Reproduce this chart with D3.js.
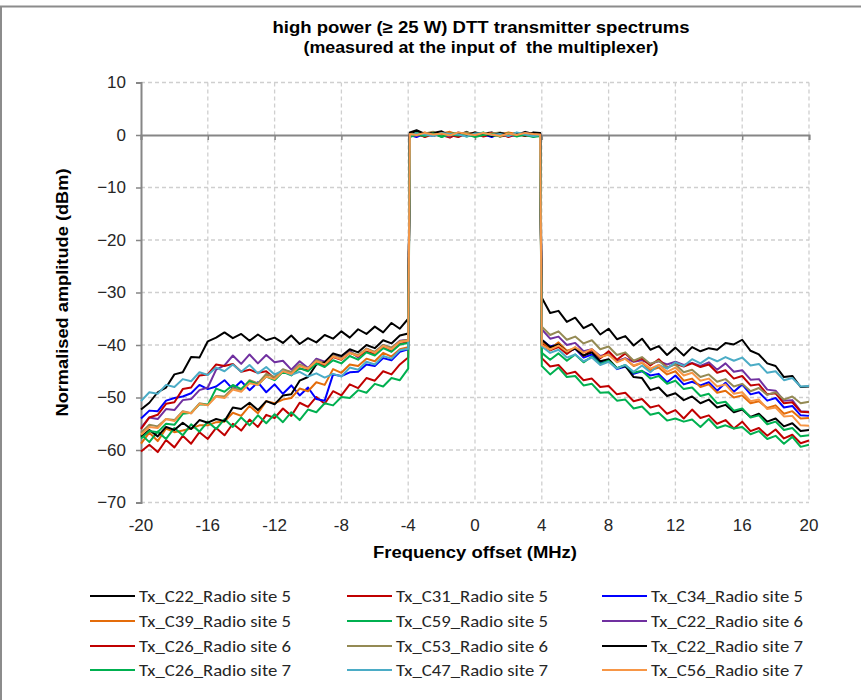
<!DOCTYPE html>
<html>
<head>
<meta charset="utf-8">
<script src="https://cdn.jsdelivr.net/npm/d3@7"></script>
<style>
  body { margin: 0; background: #fff; }
  svg { display: block; }
</style>
</head>
<body>
<svg id="chart" width="861" height="700"></svg>
<script>
// frequency grid (MHz): left shoulder, in-band, right shoulder
const leftFreqs = d3.range(-20, -3.99, 0.5);
const bandFreqs = [-3.9].concat(d3.range(-3.5, 3.51, 0.5), [3.9]);
const rightFreqs = d3.range(4, 20.01, 0.5);
const freqs = leftFreqs.concat(bandFreqs, rightFreqs);

const xTicks = [-20, -16, -12, -8, -4, 0, 4, 8, 12, 16, 20];
const yTicks = [10, 0, -10, -20, -30, -40, -50, -60, -70];

const seriesNames = [
  'Tx_C22_Radio site 5', 'Tx_C31_Radio site 5', 'Tx_C34_Radio site 5',
  'Tx_C39_Radio site 5', 'Tx_C59_Radio site 5', 'Tx_C22_Radio site 6',
  'Tx_C26_Radio site 6', 'Tx_C53_Radio site 6', 'Tx_C22_Radio site 7',
  'Tx_C26_Radio site 7', 'Tx_C47_Radio site 7', 'Tx_C56_Radio site 7'
];
const seriesColors = [
  '#000000', '#c00000', '#0000ff',
  '#e46c0a', '#00b050', '#7030a0',
  '#c00000', '#948a54', '#000000',
  '#00b050', '#4bacc6', '#f79646'
];

// levels in dBm, one value per frequency in freqs
const c22site5 = [
  -52.3, -51.0, -49.0, -48.1, -45.6, -45.2, -42.3, -42.4, -39.3, -38.6, -37.6, -38.7, -37.9, -39.2, -38.0, -39.1, -38.6,
  -39.6, -38.2, -39.8, -38.7, -39.5, -38.1, -38.8, -37.4, -38.6, -37.0, -37.9, -36.5, -37.6, -35.8, -36.9, -35.0,
  0.2, 0.8, 0.1, 0.5, -0.3, 0.4, 0.0, 0.6, -0.2, 0.3, 0.5, -0.1, 0.4, 0.0, 0.6, 0.2, 0.3,
  -31.0, -33.9, -33.5, -35.6, -34.8, -36.8, -36.0, -38.0, -36.9, -38.9, -38.3, -40.1, -38.8, -40.9, -40.2, -41.9, -40.5,
  -42.0, -40.4, -41.2, -40.6, -40.9, -39.6, -39.9, -39.0, -41.1, -41.8, -43.5, -44.0, -46.1, -45.9, -48.0, -47.9
];
const c31site5 = [
  -60.3, -59.0, -60.4, -58.1, -59.5, -57.3, -58.8, -56.6, -57.9, -55.8, -57.2, -55.0, -56.3, -54.2, -55.6, -53.3, -53.9,
  -52.1, -53.5, -51.0, -51.8, -49.9, -51.2, -48.8, -49.6, -47.5, -48.2, -46.3, -46.8, -45.0, -45.6, -43.7, -42.4,
  -0.3, 0.3, -0.4, 0.2, 0.0, -0.5, 0.3, -0.2, 0.4, -0.3, 0.1, 0.3, -0.4, 0.2, -0.1, 0.3, -0.2,
  -42.5, -44.1, -43.8, -45.5, -45.1, -46.7, -46.4, -48.0, -47.8, -49.4, -49.1, -50.7, -50.3, -51.9, -51.5, -53.1, -52.4,
  -54.0, -52.3, -53.9, -53.4, -55.0, -54.3, -55.9, -54.6, -56.4, -55.8, -57.3, -56.1, -57.8, -57.1, -58.7, -58.2
];
const c34site5 = [
  -54.0, -52.5, -52.6, -50.6, -50.1, -49.8, -49.2, -47.6, -48.4, -47.9, -46.7, -48.4, -46.9, -48.6, -47.1, -49.0, -47.5,
  -49.3, -47.7, -49.6, -48.1, -50.3, -50.6, -45.6, -45.9, -45.2, -45.1, -43.7, -44.0, -42.5, -42.9, -41.3, -40.8,
  0.0, -0.4, 0.3, -0.2, 0.5, 0.1, -0.3, 0.4, 0.0, 0.2, -0.4, 0.3, 0.1, -0.2, 0.4, 0.0, 0.1,
  -39.0, -40.3, -39.8, -41.4, -40.7, -42.4, -41.8, -43.3, -42.9, -44.6, -44.1, -45.5, -45.0, -45.8, -45.5, -47.1, -45.8,
  -47.5, -47.0, -47.7, -47.1, -48.7, -47.2, -48.9, -47.5, -49.4, -49.0, -50.6, -50.1, -51.9, -51.6, -53.4, -53.5
];
const c39site5 = [
  -58.8, -56.7, -58.3, -55.9, -56.6, -56.3, -55.9, -55.3, -55.3, -54.7, -54.6, -52.9, -53.5, -51.6, -53.0, -50.7, -51.1,
  -50.4, -50.1, -48.3, -48.8, -47.1, -47.6, -44.6, -45.3, -43.7, -44.0, -42.6, -43.1, -41.5, -42.2, -40.8, -40.4,
  0.3, 0.1, 0.5, -0.1, 0.3, 0.6, 0.0, 0.2, 0.5, -0.1, 0.4, 0.1, 0.5, 0.2, -0.1, 0.4, 0.2,
  -39.4, -40.7, -39.5, -41.1, -40.6, -41.3, -40.9, -42.4, -41.7, -43.1, -42.6, -44.0, -43.4, -44.8, -44.3, -45.6, -45.0,
  -46.8, -46.4, -48.0, -47.5, -49.1, -48.7, -50.0, -49.6, -51.1, -50.7, -52.0, -51.5, -53.1, -52.6, -54.0, -53.9
];
const c59site5 = [
  -57.0, -58.5, -56.5, -57.9, -55.8, -57.2, -55.1, -56.5, -54.6, -56.0, -54.1, -55.6, -53.8, -55.3, -53.4, -54.9, -53.2,
  -54.7, -52.8, -54.3, -52.3, -52.8, -51.1, -51.5, -49.9, -50.1, -48.6, -49.1, -47.4, -47.9, -46.3, -46.7, -44.5,
  -0.2, 0.4, -0.1, 0.3, -0.4, 0.2, 0.4, -0.3, 0.1, 0.5, -0.2, 0.0, 0.3, -0.3, 0.2, -0.1, 0.0,
  -44.0, -45.6, -44.3, -46.1, -45.9, -47.7, -47.4, -49.1, -49.0, -50.6, -50.4, -52.1, -51.7, -53.3, -52.9, -54.4, -54.0,
  -54.6, -54.2, -55.6, -54.1, -55.8, -55.3, -55.9, -55.6, -57.0, -56.4, -57.9, -57.3, -58.8, -57.5, -59.4, -59.0
];
const c22site6 = [
  -55.8, -53.8, -54.1, -52.2, -52.4, -50.5, -50.3, -48.6, -48.1, -44.7, -43.9, -42.0, -43.6, -41.8, -43.5, -41.9, -43.3,
  -43.0, -44.7, -43.1, -44.4, -42.6, -43.2, -41.8, -42.5, -41.1, -42.4, -40.7, -41.4, -40.0, -40.6, -39.2, -39.0,
  0.1, -0.2, 0.4, 0.0, 0.2, -0.3, 0.5, 0.1, -0.1, 0.3, 0.0, 0.4, -0.2, 0.3, 0.1, -0.3, 0.2,
  -37.0, -38.8, -38.4, -40.0, -39.6, -41.2, -40.8, -42.1, -41.7, -43.1, -42.5, -43.2, -42.9, -43.6, -43.1, -43.7, -43.2,
  -43.8, -43.4, -44.0, -43.3, -44.7, -43.5, -45.1, -44.8, -46.6, -46.5, -48.5, -48.7, -50.6, -50.5, -52.6, -52.7
];
const c26site6 = [
  -56.0, -53.8, -53.3, -51.2, -50.9, -48.4, -48.1, -45.8, -45.6, -43.7, -44.0, -43.6, -45.1, -44.7, -45.3, -45.0, -46.4,
  -44.8, -45.2, -44.5, -44.8, -43.4, -43.9, -42.3, -42.8, -41.5, -42.1, -41.3, -41.7, -40.4, -41.2, -39.8, -39.4,
  -0.1, 0.2, -0.3, 0.4, 0.1, 0.0, -0.4, 0.3, 0.2, -0.2, 0.4, -0.3, 0.0, 0.3, -0.2, 0.2, -0.3,
  -39.8, -41.0, -40.4, -41.7, -40.5, -42.1, -40.9, -42.5, -41.2, -42.8, -41.6, -43.1, -42.5, -43.9, -42.7, -44.3, -43.6,
  -44.1, -43.5, -44.2, -43.7, -45.3, -44.8, -46.4, -45.9, -47.7, -47.5, -49.4, -49.2, -51.1, -50.9, -52.7, -52.8
];
const c53site6 = [
  -56.7, -55.2, -55.5, -54.1, -54.3, -52.6, -53.0, -51.1, -51.4, -49.7, -49.8, -48.2, -48.6, -46.7, -47.3, -45.5, -46.1,
  -44.6, -45.2, -43.7, -44.5, -42.9, -43.5, -42.0, -42.6, -41.4, -41.9, -40.7, -41.3, -40.0, -40.5, -39.3, -39.0,
  0.4, 0.0, 0.3, 0.6, -0.2, 0.3, 0.1, 0.5, 0.2, 0.0, 0.3, 0.5, -0.1, 0.4, 0.2, 0.0, 0.3,
  -36.5, -38.1, -37.4, -39.0, -38.4, -39.7, -39.1, -40.8, -40.3, -41.9, -41.4, -43.0, -42.3, -43.6, -43.0, -44.3, -43.7,
  -45.2, -44.7, -46.1, -45.6, -47.0, -46.5, -47.9, -47.4, -48.8, -48.2, -49.5, -49.0, -50.4, -49.8, -51.1, -50.8
];
const c22site7 = [
  -57.5, -56.2, -57.4, -55.6, -56.2, -54.8, -56.0, -54.3, -54.8, -54.1, -54.5, -51.9, -52.2, -51.0, -52.4, -50.7, -51.3,
  -49.6, -49.4, -46.8, -46.1, -43.7, -43.3, -41.6, -42.1, -40.8, -41.4, -40.0, -40.6, -39.1, -39.7, -38.2, -37.8,
  0.5, 0.9, 0.2, 0.4, 0.7, -0.1, 0.3, 0.0, 0.5, 0.2, -0.2, 0.4, 0.1, 0.3, -0.1, 0.5, 0.4,
  -39.0, -40.4, -39.9, -41.3, -40.7, -42.0, -41.4, -43.1, -42.7, -44.4, -44.0, -46.1, -46.3, -48.6, -48.1, -49.7, -49.2,
  -50.5, -49.8, -51.1, -50.4, -51.9, -51.4, -52.8, -52.3, -53.7, -53.1, -54.6, -54.0, -55.5, -54.9, -56.4, -56.2
];
const c26site7 = [
  -57.8, -56.4, -56.6, -55.0, -55.2, -53.1, -52.9, -51.3, -51.4, -48.3, -48.9, -47.6, -48.4, -46.9, -47.6, -46.0, -46.7,
  -45.1, -45.8, -44.4, -45.0, -43.5, -44.2, -42.9, -43.5, -42.1, -42.8, -41.4, -42.0, -40.6, -41.3, -39.9, -39.6,
  -0.4, 0.1, -0.2, 0.3, -0.3, 0.1, -0.1, 0.2, -0.4, 0.0, 0.2, -0.3, 0.3, -0.1, 0.0, -0.4, -0.2,
  -41.5, -42.8, -41.6, -43.0, -41.8, -43.3, -42.2, -43.6, -43.0, -44.4, -43.8, -45.3, -44.9, -46.4, -45.9, -47.4, -46.8,
  -48.4, -48.1, -49.7, -49.3, -51.1, -50.8, -52.5, -52.1, -53.8, -53.4, -55.1, -54.6, -56.2, -55.8, -57.4, -57.2
];
const c47site7 = [
  -50.7, -49.0, -49.3, -47.6, -48.0, -46.5, -46.9, -45.2, -45.7, -44.3, -45.0, -43.7, -45.1, -43.8, -45.4, -44.2, -45.6,
  -44.9, -45.7, -45.1, -46.0, -45.4, -46.2, -45.5, -46.0, -44.3, -44.7, -43.2, -43.7, -42.1, -42.6, -41.0, -40.7,
  0.0, 0.3, 0.1, -0.2, 0.4, 0.2, 0.1, -0.3, 0.3, 0.4, 0.0, 0.2, -0.2, 0.5, 0.1, -0.2, 0.0,
  -40.3, -41.5, -40.9, -42.4, -41.8, -43.1, -42.4, -43.8, -43.2, -44.5, -43.8, -45.1, -43.9, -45.2, -43.8, -44.5, -43.3,
  -44.0, -42.7, -43.5, -42.4, -43.1, -42.3, -43.0, -42.4, -43.9, -43.6, -45.3, -45.0, -46.7, -46.3, -47.9, -47.8
];
const c56site7 = [
  -57.1, -55.6, -55.8, -54.1, -54.5, -52.7, -53.0, -51.2, -51.5, -49.8, -50.1, -48.5, -48.9, -47.3, -47.6, -46.0, -46.5,
  -45.0, -45.5, -44.0, -44.5, -43.1, -43.7, -42.2, -42.7, -41.5, -42.1, -40.8, -41.5, -40.2, -40.8, -39.4, -39.2,
  0.2, 0.0, 0.4, 0.1, 0.3, -0.1, 0.5, 0.2, 0.0, 0.4, 0.1, -0.2, 0.3, 0.0, 0.4, 0.2, 0.1,
  -40.0, -40.9, -40.1, -41.3, -40.4, -41.5, -40.8, -42.3, -41.8, -43.3, -42.6, -43.9, -43.3, -44.5, -43.8, -45.1, -44.3,
  -45.8, -45.3, -46.8, -46.4, -47.9, -47.5, -49.3, -49.0, -50.7, -50.4, -52.2, -51.9, -53.6, -53.5, -55.3, -55.4
];

const seriesValues = [
  c22site5, c31site5, c34site5,
  c39site5, c59site5, c22site6,
  c26site6, c53site6, c22site7,
  c26site7, c47site7, c56site7
];

const svg = d3.select('#chart');

// chart frame
svg.append('rect')
  .attr('x', 1).attr('y', 6.5)
  .attr('width', 900).attr('height', 760)
  .attr('fill', 'none')
  .attr('stroke', '#8c8c8c')
  .attr('stroke-width', 2);

const x = d3.scaleLinear().domain([-20, 20]).range([141, 809]);
const y = d3.scaleLinear().domain([-70, 10]).range([502.5, 82.5]);

// dashed grid
svg.append('g')
  .selectAll('line')
  .data(yTicks.filter(v => v !== 0))
  .enter()
  .append('line')
  .attr('x1', x(-20)).attr('x2', x(20))
  .attr('y1', d => y(d)).attr('y2', d => y(d))
  .attr('stroke', '#cfcfcf')
  .attr('stroke-width', 1.3)
  .attr('stroke-dasharray', '4,3');
svg.append('g')
  .selectAll('line')
  .data(xTicks.filter(v => v !== -20))
  .enter()
  .append('line')
  .attr('x1', d => x(d)).attr('x2', d => x(d))
  .attr('y1', y(10)).attr('y2', y(-70))
  .attr('stroke', '#cfcfcf')
  .attr('stroke-width', 1.3)
  .attr('stroke-dasharray', '4,3');

// axes: y on the left, x crossing at 0 dBm, labels at the bottom
const yAxis = svg.append('g')
  .attr('transform', `translate(${x(-20)},0)`)
  .call(d3.axisLeft(y).tickValues(yTicks).tickSize(5).tickPadding(10).tickFormat(d3.format('d')));
yAxis.select('.domain').attr('stroke', '#868686').attr('stroke-width', 2);
yAxis.selectAll('.tick line').attr('stroke', '#868686').attr('stroke-width', 1.5);
yAxis.selectAll('.tick text')
  .attr('fill', '#262626')
  .style('font-family', 'Liberation Sans, Arial, sans-serif')
  .style('font-size', '17px');

const xAxis = svg.append('g')
  .attr('transform', `translate(0,${y(0)})`)
  .call(d3.axisBottom(x).tickValues(xTicks).tickSize(5).tickFormat(''));
xAxis.select('.domain').attr('stroke', '#868686').attr('stroke-width', 2);
xAxis.selectAll('.tick line').attr('stroke', '#868686').attr('stroke-width', 1.5);

svg.append('g')
  .selectAll('text')
  .data(xTicks)
  .enter()
  .append('text')
  .attr('x', d => x(d))
  .attr('y', 531)
  .attr('text-anchor', 'middle')
  .attr('fill', '#262626')
  .style('font-family', 'Liberation Sans, Arial, sans-serif')
  .style('font-size', '17px')
  .text(d => d);

// spectra
const line = d3.line()
  .defined(d => d[1] != null)
  .x(d => x(d[0]))
  .y(d => y(d[1]));

svg.append('g')
  .selectAll('path')
  .data(seriesValues)
  .enter()
  .append('path')
  .attr('d', vals => line(freqs.map((f, i) => [f, vals[i]])))
  .attr('fill', 'none')
  .attr('stroke', (d, i) => seriesColors[i])
  .attr('stroke-width', 2)
  .attr('stroke-linejoin', 'round');

// titles (the original text is drawn a bit wide, so fix the widths)
const title = svg.append('text')
  .attr('text-anchor', 'middle')
  .attr('fill', '#000')
  .style('font-family', 'Liberation Sans, Arial, sans-serif')
  .style('font-weight', 'bold')
  .style('font-size', '16px');
title.append('tspan').attr('x', 481).attr('y', 33)
  .attr('textLength', 417).attr('lengthAdjust', 'spacingAndGlyphs')
  .text('high power (≥ 25 W) DTT transmitter spectrums');
title.append('tspan').attr('x', 481).attr('y', 52.5)
  .attr('textLength', 355).attr('lengthAdjust', 'spacingAndGlyphs')
  .style('white-space', 'pre')
  .text('(measured at the input of  the multiplexer)');

svg.append('text')
  .attr('x', 475).attr('y', 558)
  .attr('text-anchor', 'middle')
  .attr('textLength', 204).attr('lengthAdjust', 'spacingAndGlyphs')
  .attr('fill', '#000')
  .style('font-family', 'Liberation Sans, Arial, sans-serif')
  .style('font-weight', 'bold')
  .style('font-size', '16px')
  .text('Frequency offset (MHz)');

svg.append('text')
  .attr('transform', `translate(68,${y(-30)}) rotate(-90)`)
  .attr('text-anchor', 'middle')
  .attr('textLength', 248).attr('lengthAdjust', 'spacingAndGlyphs')
  .attr('fill', '#000')
  .style('font-family', 'Liberation Sans, Arial, sans-serif')
  .style('font-weight', 'bold')
  .style('font-size', '16px')
  .text('Normalised amplitude (dBm)');

// legend, 3 columns x 4 rows
const legendCols = [90, 347, 602];
const legendRows = [596, 621, 646, 670];
const legend = svg.append('g')
  .selectAll('g')
  .data(seriesNames)
  .enter()
  .append('g')
  .attr('transform', (d, i) => `translate(${legendCols[i % 3]},${legendRows[Math.floor(i / 3)]})`);
legend.append('line')
  .attr('x1', 0).attr('x2', 45)
  .attr('y1', 0).attr('y2', 0)
  .attr('stroke', (d, i) => seriesColors[i])
  .attr('stroke-width', 2);
legend.append('text')
  .attr('x', 49).attr('y', 6)
  .attr('textLength', 152).attr('lengthAdjust', 'spacingAndGlyphs')
  .attr('fill', '#262626')
  .style('font-family', 'Carlito, Calibri, Lato, sans-serif')
  .style('font-size', '16.5px')
  .text(d => d);
</script>
</body>
</html>
